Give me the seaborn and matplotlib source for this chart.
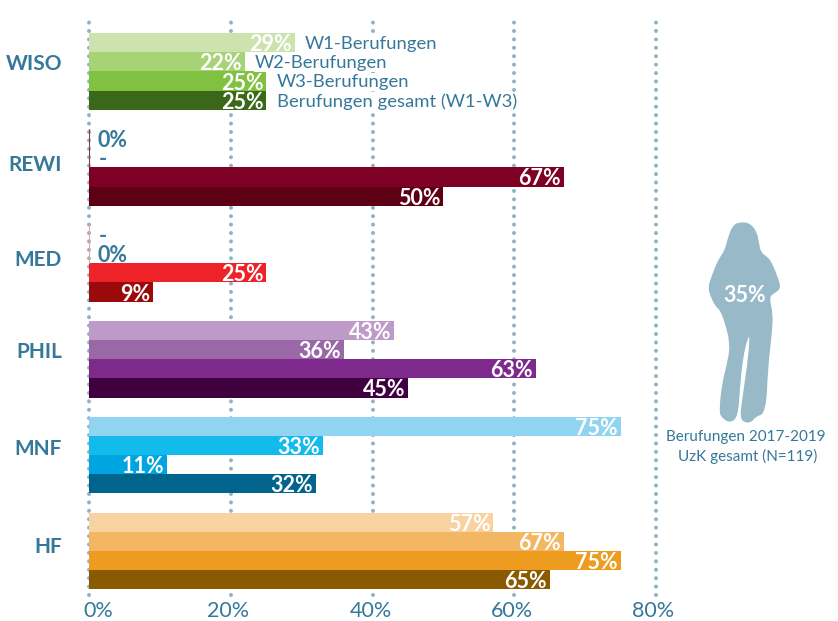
import numpy as np
import pandas as pd
import matplotlib
matplotlib.use("Agg")
import matplotlib.pyplot as plt
import seaborn as sns
from matplotlib.patches import PathPatch
from matplotlib.path import Path
from matplotlib.transforms import ScaledTranslation

faculties = ["WISO", "REWI", "MED", "PHIL", "MNF", "HF"]
waves = ["W1-Berufungen", "W2-Berufungen", "W3-Berufungen", "Berufungen gesamt (W1-W3)"]
w1 = [29, 0, np.nan, 43, 75, 57]
w2 = [22, np.nan, 0, 36, 33, 67]
w3 = [25, 67, 25, 63, 11, 75]
total = [25, 50, 9, 45, 32, 65]

colors = {
    "WISO": ["#cce3ae", "#a7d377", "#80c141", "#3a6718"],
    "REWI": ["#a03050", "#a03050", "#7e0025", "#5e0014"],
    "MED": ["#ee2229", "#ee2229", "#ee2229", "#9a0a0a"],
    "PHIL": ["#bd9ac7", "#9a67a7", "#7d2a8c", "#400040"],
    "MNF": ["#90d4f2", "#13bbec", "#00a4e0", "#00648c"],
    "HF": ["#f8d2a0", "#f3b764", "#ee9c1f", "#8a5a00"],
}

x_ticks = [0, 20, 40, 60, 80]
overall_share = "35%"
caption = ["Berufungen 2017-2019", "UzK gesamt (N=119)"]

# outline of the figure on the right, in image pixels
figure_x = [740, 750, 757, 759, 761, 768, 773, 778, 781, 775, 769, 773, 772, 768, 766, 755, 752, 745, 740, 742, 747, 750,
            748, 743, 740, 738, 730, 722, 719, 722, 728, 730, 725, 720, 715, 710, 708, 712, 718, 725, 728, 733]
figure_y = [222, 223, 232, 243, 253, 257, 265, 278, 288, 293, 297, 313, 333, 367, 413, 417, 422, 423, 418, 400, 367, 337,
            337, 357, 387, 417, 423, 418, 412, 383, 360, 343, 323, 310, 306, 295, 287, 275, 260, 250, 237, 225]

blue = "#35789a"
dots = "#8fb3c4"

df = pd.DataFrame({"faculty": faculties, waves[0]: w1, waves[1]: w2, waves[2]: w3, waves[3]: total})
df = df.melt(id_vars="faculty", var_name="wave", value_name="share")

sns.set_theme(style="white")
plt.rcParams["font.family"] = ["Lato", "DejaVu Sans"]

fig = plt.figure(figsize=(8.38, 6.21), dpi=100)
ax = fig.add_axes([89 / 838, 1 - 595 / 621, 567 / 838, 573 / 621])

sns.barplot(data=df, y="faculty", x="share", hue="wave", order=faculties, hue_order=waves,
            orient="h", width=0.8, gap=0, errorbar=None, legend=False, saturation=1, ax=ax, zorder=3)

for i, wave in enumerate(waves):
    sub = df[df["wave"] == wave].reset_index(drop=True)
    shown = sub.dropna(subset=["share"])
    for bar, (_, row) in zip(ax.containers[i], shown.iterrows()):
        bar.set_facecolor(colors[row["faculty"]][i])
        bar.set_edgecolor("none")
        y = bar.get_y() + bar.get_height() / 2
        if row["share"] == 0:
            ax.annotate("0%", (0, y), xytext=(6, 0), textcoords="offset points", ha="left", va="center_baseline",
                        color=blue, fontsize=15.5, fontweight="bold", zorder=5)
        else:
            ax.annotate(f"{row['share']:.0f}%", (row["share"], y), xytext=(-2, 0), textcoords="offset points",
                        ha="right", va="center_baseline", color="white", fontsize=15.5, fontweight="bold", zorder=5)
    for _, row in sub[sub["share"].isna()].iterrows():
        y = faculties.index(row["faculty"]) + (i - 1.5) * 0.2
        ax.annotate("-", (0, y), xytext=(7, 0), textcoords="offset points", ha="left", va="center_baseline",
                    color=blue, fontsize=15.5, fontweight="bold", zorder=5)

# thin lines left over from the empty REWI and MED bars
ax.plot([0, 0], [0.6, 1.0], color="#a03050", lw=0.8, zorder=3)
ax.plot([0, 0], [1.6, 2.0], color="#f5a08a", lw=0.8, zorder=3)

ax.set_xlim(0, 80)
ax.set_ylim(5.459, -0.516)
ax.set_xticks(x_ticks)
ax.set_xticklabels([f"{t}%" for t in x_ticks], color=blue, fontsize=15.5)
ax.set_yticks(range(len(faculties)))
ax.set_yticklabels(faculties, color=blue, fontsize=15, fontweight="bold")
ax.set_xlabel("")
ax.set_ylabel("")
ax.tick_params(axis="both", length=0)
ax.tick_params(axis="x", pad=4)
ax.tick_params(axis="y", pad=19.4)
for lab, dx in zip(ax.get_xticklabels(), [7, -2, -1.5, -2, -2]):
    lab.set_transform(lab.get_transform() + ScaledTranslation(dx / 72, 0, fig.dpi_scale_trans))
# faculty names do not sit exactly on the group centres
for lab, dy in zip(ax.get_yticklabels(), [7, 3, 3.5, 6.5, 5.5, 4.5]):
    lab.set_transform(lab.get_transform() + ScaledTranslation(0, dy / 72, fig.dpi_scale_trans))
sns.despine(ax=ax, left=True, bottom=True)

for t in x_ticks:
    ax.axvline(t, color=dots, lw=2.9, linestyle=(0, (0.01, 2.08)), dash_capstyle="round", zorder=1, clip_on=False)

# legend written next to the WISO bars, white box hides the dotted lines
legend_x = [305, 255, 277, 277]
overlay = fig.add_axes([0, 0, 1, 1])
overlay.set_xlim(0, 838)
overlay.set_ylim(621, 0)
overlay.axis("off")
overlay.patch.set_alpha(0)
for name, px, py in zip(waves, legend_x, [44, 63, 82, 102]):
    overlay.text(px, py, name, color=blue, fontsize=13.3, va="center", ha="left",
                 bbox=dict(facecolor="white", edgecolor="none", pad=1))

# smooth the outline with quadratic curves through the midpoints
pts = np.column_stack([figure_x, figure_y])
mids = (pts + np.roll(pts, -1, axis=0)) / 2
verts = [mids[-1]]
codes = [Path.MOVETO]
for p, m in zip(pts, mids):
    verts += [p, m]
    codes += [Path.CURVE3, Path.CURVE3]
overlay.add_patch(PathPatch(Path(verts, codes), facecolor="#98b9c8", edgecolor="none"))
overlay.text(745, 296, overall_share, color="white", fontsize=15.5, fontweight="bold", ha="center", va="center")
overlay.text(746, 437, caption[0], color=blue, fontsize=11, ha="center", va="center")
overlay.text(748, 456, caption[1], color=blue, fontsize=11, ha="center", va="center")

fig.savefig("out.png", dpi=100, facecolor="white")
